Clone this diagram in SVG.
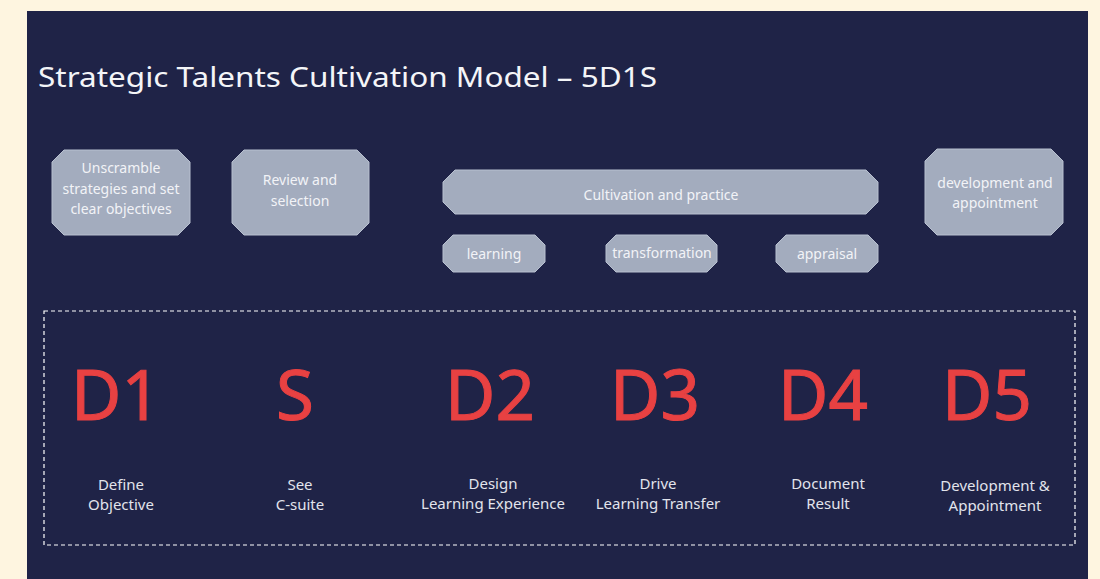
<svg xmlns="http://www.w3.org/2000/svg" width="1100" height="579" viewBox="0 0 1100 579">
<style>
.box{fill:#A3ACBE;stroke:#B8C0D0;stroke-width:1}
.bt{font-family:"Source Sans Pro","Noto Sans","Liberation Sans",sans-serif;font-size:14px;fill:#F2F3F7;text-anchor:middle}
.big{font-family:"Noto Sans","Liberation Sans",sans-serif;font-size:69px;fill:#E84142;stroke:#E84142;stroke-width:1;text-anchor:middle}
.lab{font-family:"Noto Sans","Liberation Sans",sans-serif;font-size:15px;fill:#E2E4EC;text-anchor:middle}
</style>
<rect x="0" y="0" width="1100" height="579" fill="#FEF5E0"/>
<rect x="27" y="11" width="1061" height="568" fill="#1F2347"/>
<text x="38" y="87" font-family="Noto Sans, Liberation Sans, sans-serif" font-size="28" fill="#F4F5F8" textLength="619" lengthAdjust="spacingAndGlyphs">Strategic Talents Cultivation Model – 5D1S</text>
<g id="n1"><polygon class="box" points="64,150 178,150 190,162 190,223 178,235 64,235 52,223 52,162"/><text class="bt" x="121" y="173">Unscramble</text><text class="bt" x="121" y="194">strategies and set</text><text class="bt" x="121" y="214">clear objectives</text></g>
<g id="n2"><polygon class="box" points="244,150 357,150 369,162 369,223 357,235 244,235 232,223 232,162"/><text class="bt" x="300" y="185">Review and</text><text class="bt" x="300" y="206">selection</text></g>
<g id="n3"><polygon class="box" points="455,170 866,170 878,182 878,202 866,214 455,214 443,202 443,182"/><text class="bt" x="661" y="200">Cultivation and practice</text></g>
<g id="n4"><polygon class="box" points="453,235 535,235 545,245 545,262 535,272 453,272 443,262 443,245"/><text class="bt" x="494" y="259">learning</text></g>
<g id="n5"><polygon class="box" points="616,235 707,235 717,245 717,262 707,272 616,272 606,262 606,245"/><text class="bt" x="662" y="258">transformation</text></g>
<g id="n6"><polygon class="box" points="786,235 868,235 878,245 878,262 868,272 786,272 776,262 776,245"/><text class="bt" x="827" y="259">appraisal</text></g>
<g id="n7"><polygon class="box" points="937,149 1051,149 1063,161 1063,223 1051,235 937,235 925,223 925,161"/><text class="bt" x="995" y="188">development and</text><text class="bt" x="995" y="208">appointment</text></g>
<g id="frame"><rect x="44" y="311" width="1031" height="234" fill="none" stroke="#FFFFFF" stroke-width="1.2" stroke-dasharray="4,3"/></g>
<g id="d1"><text class="big" x="116" y="420">D1</text><text class="lab" x="121" y="490">Define</text><text class="lab" x="121" y="510">Objective</text></g>
<g id="s"><text class="big" x="295" y="420">S</text><text class="lab" x="300" y="490">See</text><text class="lab" x="300" y="510">C-suite</text></g>
<g id="d2"><text class="big" x="490" y="420">D2</text><text class="lab" x="493" y="489">Design</text><text class="lab" x="493" y="509">Learning Experience</text></g>
<g id="d3"><text class="big" x="655" y="420">D3</text><text class="lab" x="658" y="489">Drive</text><text class="lab" x="658" y="509">Learning Transfer</text></g>
<g id="d4"><text class="big" x="823" y="420">D4</text><text class="lab" x="828" y="489">Document</text><text class="lab" x="828" y="509">Result</text></g>
<g id="d5"><text class="big" x="987" y="420">D5</text><text class="lab" x="995" y="491">Development &amp;</text><text class="lab" x="995" y="511">Appointment</text></g>
<g id="connectors"/>
</svg>
